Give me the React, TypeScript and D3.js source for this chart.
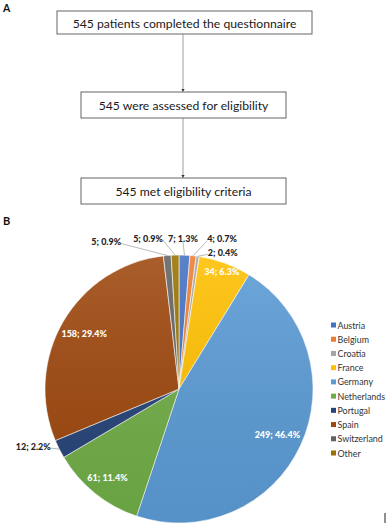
import React from "react";
import * as d3 from "d3";

const countries = ["Austria", "Belgium", "Croatia", "France", "Germany", "Netherlands", "Portugal", "Spain", "Switzerland", "Other"];
const counts = [7, 4, 2, 34, 249, 61, 12, 158, 5, 5];
const percents = ["1.3%", "0.7%", "0.4%", "6.3%", "46.4%", "11.4%", "2.2%", "29.4%", "0.9%", "0.9%"];
const colors = ["#4472C4", "#ED7D31", "#A5A5A5", "#FFC000", "#5B9BD5", "#70AD47", "#264478", "#9E480E", "#636363", "#997300"];
const flowSteps = [
  "545 patients completed the questionnaire",
  "545 were assessed for eligibility",
  "545 met eligibility criteria",
];

// label layout (not data)
const insideLabels: Record<string, number> = { France: 0.93, Germany: 0.81, Netherlands: 0.85, Spain: 0.82 };
const outsideLabels: Record<string, [number, number]> = {
  Austria: [-1.5, -17],
  Belgium: [29, -17],
  Croatia: [25, -4],
  Portugal: [-26, -3],
  Switzerland: [-61, -14],
  Other: [-27, -17],
};

const W = 388;
const H = 528;
const FONT = "Lato, 'Open Sans', sans-serif";

export default function App() {
  const cx = 179;
  const cy = 389;
  const R = 134;
  const data = countries.map((c, i) => ({ name: c, value: counts[i], pct: percents[i], color: colors[i] }));
  const pie = d3.pie<typeof data[0]>().value((d) => d.value).sort(null).startAngle(0).endAngle(2 * Math.PI);
  const arcs = pie(data);
  const arcGen = d3.arc<d3.PieArcDatum<typeof data[0]>>().innerRadius(0).outerRadius(R);

  const boxX = [57, 81, 81];
  const boxW = [255, 205, 205];
  const boxY = [11, 92, 178];
  const boxH = [23, 26, 26];
  const midX = 183;

  const legendY = d3.scaleLinear().domain([0, countries.length - 1]).range([325, 453]);
  const LFS = 9;

  return (
    <svg width={W} height={H} style={{ position: "absolute", left: 0, top: 0, background: "#fff" }} fontFamily={FONT}>
      <rect x={0} y={0} width={W} height={H} fill="#fff" />
      <text x={3} y={11.5} fontSize={10.5} fontWeight="bold" fill="#111">A</text>
      {flowSteps.map((t, i) => (
        <g key={t}>
          <rect x={boxX[i]} y={boxY[i]} width={boxW[i]} height={boxH[i]} fill="#fff" stroke="#555" strokeWidth={0.9} />
          <text x={boxX[i] + boxW[i] / 2} y={boxY[i] + boxH[i] / 2 + 0.5} textAnchor="middle" dominantBaseline="central" fontSize={12.2} fill="#1a1a1a">
            {t}
          </text>
        </g>
      ))}
      {[0, 1].map((i) => {
        const y1 = boxY[i] + boxH[i];
        const y2 = boxY[i + 1];
        return (
          <g key={i}>
            <line x1={midX} x2={midX} y1={y1} y2={y2 - 2} stroke="#777" strokeWidth={0.7} />
            <path d={`M${midX - 1.6},${y2 - 3} L${midX + 1.6},${y2 - 3} L${midX},${y2} Z`} fill="#333" />
          </g>
        );
      })}
      <text x={3} y={225} fontSize={11} fontWeight="bold" fill="#111">B</text>

      <defs>
        <linearGradient id="shade" x1="0" y1="0" x2="0" y2="1">
          <stop offset="0" stopColor="#fff" stopOpacity={0.12} />
          <stop offset="1" stopColor="#000" stopOpacity={0.06} />
        </linearGradient>
      </defs>
      <g transform={`translate(${cx},${cy})`}>
        {arcs.map((a) => (
          <path key={a.data.name} d={arcGen(a) || ""} fill={a.data.color} stroke="#fff" strokeWidth={0.6} />
        ))}
        <circle r={R} fill="url(#shade)" />
      </g>

      {arcs.map((a) => {
        const mid = (a.startAngle + a.endAngle) / 2;
        const label = `${a.data.value}; ${a.data.pct}`;
        if (insideLabels[a.data.name] !== undefined) {
          const r = insideLabels[a.data.name] * R;
          const x = cx + r * Math.sin(mid);
          const y = cy - r * Math.cos(mid);
          return (
            <text key={a.data.name} x={x} y={y} textAnchor="middle" dominantBaseline="central" fontSize={LFS} fontWeight="900" fill="#fff">
              {label}
            </text>
          );
        }
        const off = outsideLabels[a.data.name];
        if (!off) return null;
        const ex = cx + R * Math.sin(mid);
        const ey = cy - R * Math.cos(mid);
        const lx = ex + off[0];
        const ly = ey + off[1];
        const halfW = label.length * 2.05;
        let ax = lx;
        let ay = ly + 4;
        if (off[0] > halfW) {
          ax = lx - halfW - 0.5;
          ay = ly + 2;
        } else if (off[0] < -halfW) {
          ax = lx + halfW + 0.5;
          ay = ly + 2;
        }
        return (
          <g key={a.data.name}>
            <line x1={ex} y1={ey} x2={ax} y2={ay} stroke="#8c8c8c" strokeWidth={0.6} />
            <text x={lx} y={ly} textAnchor="middle" dominantBaseline="central" fontSize={LFS} fontWeight="900" fill="#262626">
              {label}
            </text>
          </g>
        );
      })}

      {countries.map((c, i) => (
        <g key={c}>
          <rect x={331} y={legendY(i) - 2.5} width={5} height={5} fill={colors[i]} />
          <text x={337.5} y={legendY(i)} dominantBaseline="central" fontSize={8.9} fill="#333">
            {c}
          </text>
        </g>
      ))}

      <line x1={385} x2={385} y1={513} y2={523} stroke="#222" strokeWidth={1} />
    </svg>
  );
}
